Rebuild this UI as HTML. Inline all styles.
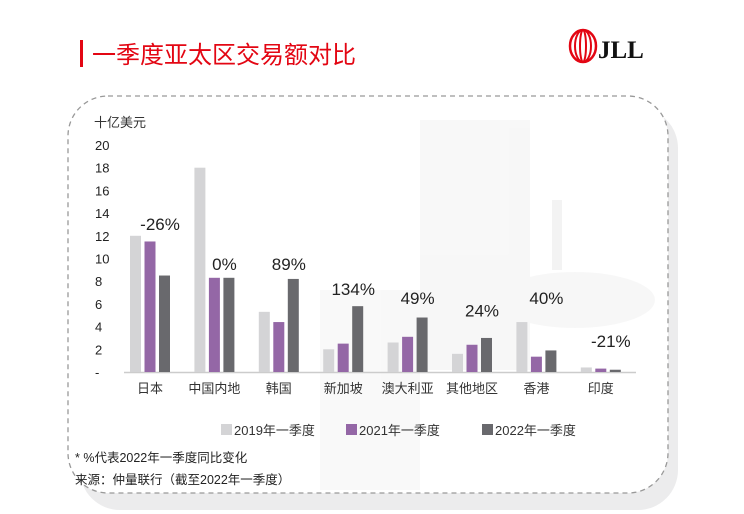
<!DOCTYPE html>
<html><head><meta charset="utf-8"><style>
body{margin:0;width:744px;height:514px;overflow:hidden;background:#fff;font-family:"Liberation Sans","Noto Sans CJK SC",sans-serif}
svg{display:block}
</style></head><body>
<svg width="744" height="514">
<rect x="80" y="108" width="598" height="402" rx="40" fill="#ececed"/>
<rect x="68" y="96" width="600" height="397" rx="40" fill="#fff" stroke="#999" stroke-width="1.3" stroke-dasharray="5,4"/>
<g opacity="0.5">
<rect x="420" y="120" width="110" height="250" fill="#f1f1f1"/>
<rect x="320" y="290" width="100" height="200" fill="#f3f3f3"/>
<ellipse cx="575" cy="300" rx="80" ry="28" fill="#f0f0f0"/>
<rect x="552" y="200" width="10" height="70" fill="#e8e8e8"/>
</g>
<rect x="80" y="40" width="3" height="27" fill="#e30613"/>
<text x="92" y="63" font-size="24" fill="#e30613">一季度亚太区交易额对比</text>
<g>
<ellipse cx="583" cy="46" rx="13" ry="16" fill="none" stroke="#e30613" stroke-width="2.5"/>
<ellipse cx="583" cy="46" rx="8" ry="16" fill="none" stroke="#e30613" stroke-width="2"/>
<ellipse cx="583" cy="46" rx="3" ry="16" fill="none" stroke="#e30613" stroke-width="2"/>
<text x="598" y="58" font-family="Liberation Serif,serif" font-weight="bold" font-size="25" fill="#111">JLL</text>
</g>
<text x="94" y="127" font-size="13" fill="#333">十亿美元</text>
<g id="yaxis"></g>
<line x1="124" y1="372.5" x2="636" y2="372.5" stroke="#ccc" stroke-width="1.5"/>
<g id="bars"></g>
<g id="xlabels"></g>
<g id="pcts"></g>
<g>
<rect x="221" y="424" width="11" height="11" fill="#d4d4d6"/>
<text x="234" y="435" font-size="13" fill="#333">2019年一季度</text>
<rect x="346" y="424" width="11" height="11" fill="#9467a6"/>
<text x="359" y="435" font-size="13" fill="#333">2021年一季度</text>
<rect x="482" y="424" width="11" height="11" fill="#69696d"/>
<text x="495" y="435" font-size="13" fill="#333">2022年一季度</text>
</g>
<text x="75" y="462" font-size="12.5" fill="#222">*  %代表2022年一季度同比变化</text>
<text x="75" y="484" font-size="12.5" fill="#222">来源：仲量联行（截至2022年一季度）</text>
</svg>
<script>
const categories=["日本","中国内地","韩国","新加坡","澳大利亚","其他地区","香港","印度"];
const s2019=[12,18,5.3,2.0,2.6,1.6,4.4,0.4];
const s2021=[11.5,8.3,4.4,2.5,3.1,2.4,1.35,0.3];
const s2022=[8.5,8.3,8.2,5.8,4.8,3.0,1.9,0.2];
const pctLabels=["-26%","0%","89%","134%","49%","24%","40%","-21%"];
const pctLevel=[12.5,9.0,9.0,6.8,6.0,4.9,6.0,2.2];
const yTicks=[0,2,4,6,8,10,12,14,16,18,20];
const yTickLabels=["-","2","4","6","8","10","12","14","16","18","20"];
const NS="http://www.w3.org/2000/svg";
const y=v=>372-v*11.35;
const gx=i=>130+i*64.4;
function mk(t,a,p){const e=document.createElementNS(NS,t);for(const k in a)e.setAttribute(k,a[k]);p.appendChild(e);return e;}
const ya=document.getElementById('yaxis');
yTicks.forEach((t,i)=>{const e=mk('text',{x:95,y:y(t)+5,'font-size':13,fill:'#222'},ya);e.textContent=yTickLabels[i];

});
const bg=document.getElementById('bars'),xl=document.getElementById('xlabels'),pg=document.getElementById('pcts');
const series=[[s2019,'#d4d4d6','2019'],[s2021,'#9467a6','2021'],[s2022,'#69696d','2022']];
categories.forEach((c,i)=>{
 series.forEach((s,j)=>{const v=s[0][i];const r=mk('rect',{x:gx(i)+j*14.5,y:y(v),width:11,height:372-y(v),fill:s[1]},bg);
 
 });
 const t=mk('text',{x:gx(i)+20,y:393,'font-size':13,fill:'#333','text-anchor':'middle'},xl);t.textContent=c;
 
 
 const p=mk('text',{x:gx(i)+30,y:y(pctLevel[i]),'font-size':17,fill:'#222','text-anchor':'middle'},pg);p.textContent=pctLabels[i];
 
 
});
</script>
</body></html>
